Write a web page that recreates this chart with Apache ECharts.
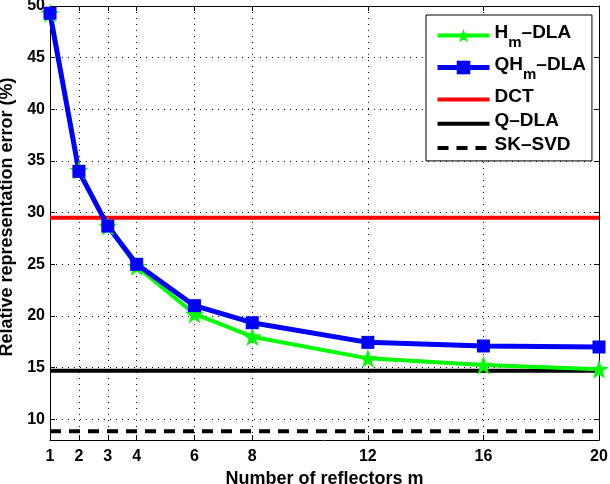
<!DOCTYPE html>
<html>
<head>
<meta charset="utf-8">
<script src="https://cdn.jsdelivr.net/npm/echarts@6/dist/echarts.min.js"></script>
<style>
  html, body { margin: 0; padding: 0; background: #fff; }
  #chart { width: 610px; height: 484px; }
</style>
</head>
<body>
<div id="chart"></div>
<script>
  // reflector counts on the x axis
  const mValues = [1, 2, 3, 4, 6, 8, 12, 16, 20];
  const xTicks = [1, 2, 3, 4, 6, 8, 12, 16, 20];
  const yTicks = [10, 15, 20, 25, 30, 35, 40, 45, 50];

  // error curves (%)
  const hmDla = [49.3, 34.1, 28.7, 24.8, 20.2, 18.0, 15.9, 15.25, 14.85];
  const qhmDla = [49.3, 34.0, 28.7, 25.0, 21.0, 19.35, 17.45, 17.1, 17.0];

  // flat references
  const dctLevel = 29.5;
  const qDlaLevel = 14.7;
  const skSvdLevel = 8.85;
  const flatX = [1, 20];

  const starPath = 'path://M0,-10 L2.35,-3.24 L9.51,-3.09 L3.8,1.24 L5.88,8.09 L0,4 L-5.88,8.09 L-3.8,1.24 L-9.51,-3.09 L-2.35,-3.24 Z';

  const pairs = (xs, ys) => xs.map((x, i) => [x, ys[i]]);
  const flat = (v) => flatX.map(x => [x, v]);

  const font = 'Liberation Sans';
  const gridLine = { show: true, lineStyle: { color: '#000', type: [1, 5], width: 1 } };
  const noMark = { color: 'rgba(0,0,0,0)', borderWidth: 0 };

  let chart = echarts.init(document.getElementById('chart'));
  chart.setOption({
    animation: false,
    backgroundColor: '#fff',
    textStyle: { fontFamily: font },
    grid: { left: 50, right: 11, top: 6, bottom: 44, outerBoundsMode: 'none', containLabel: false },
    legend: {
      orient: 'vertical',
      left: 426,
      top: 15,
      backgroundColor: '#fff',
      borderColor: '#000',
      borderWidth: 1,
      borderRadius: 0,
      padding: [8, 6, 6, 9],
      itemWidth: 52,
      itemHeight: 17,
      itemGap: 5,
      lineStyle: { width: 'inherit' },
      data: [
        { name: 'H_m-DLA' },
        { name: 'QH_m-DLA' },
        { name: 'DCT', itemStyle: noMark },
        { name: 'Q-DLA', itemStyle: noMark },
        { name: 'SK-SVD', itemStyle: noMark }
      ],
      formatter: function (name) {
        if (name === 'H_m-DLA') return '{a|H}{sub|m}{a|–DLA}';
        if (name === 'QH_m-DLA') return '{a|QH}{sub|m}{a|–DLA}';
        return '{a|' + name.replace('-', '–') + '}';
      },
      textStyle: {
        color: '#000',
        rich: {
          a: { fontSize: 19, fontWeight: 'bold', fontFamily: font, color: '#000', padding: [0, 0, 6, 0] },
          sub: { fontSize: 15, fontWeight: 'bold', fontFamily: font, color: '#000', padding: [14, 0, 0, 0] }
        }
      }
    },
    xAxis: [{
      type: 'value',
      min: 1,
      max: 20,
      name: 'Number of reflectors m',
      nameLocation: 'middle',
      nameGap: 26,
      nameTextStyle: { fontSize: 18, fontWeight: 'bold', fontFamily: font, color: '#000' },
      axisLine: { show: true, onZero: false, lineStyle: { color: '#000', width: 1 } },
      axisTick: { show: true, inside: true, length: 5, customValues: xTicks, lineStyle: { color: '#000' } },
      axisLabel: { customValues: xTicks, fontSize: 16, fontWeight: 'bold', color: '#000', margin: 9 },
      splitLine: gridLine
    }, {
      type: 'value',
      position: 'top',
      min: 1,
      max: 20,
      axisLine: { show: true, lineStyle: { color: '#000', width: 1 } },
      axisTick: { show: true, inside: true, length: 5, customValues: xTicks, lineStyle: { color: '#000' } },
      axisLabel: { show: false },
      splitLine: { show: false }
    }],
    yAxis: [{
      type: 'value',
      min: 8,
      max: 50,
      name: 'Relative representation error (%)',
      nameLocation: 'middle',
      nameGap: 33,
      nameTextStyle: { fontSize: 18, fontWeight: 'bold', fontFamily: font, color: '#000', padding: [0, 0, 0, 12] },
      axisLine: { show: true, onZero: false, lineStyle: { color: '#000', width: 1 } },
      axisTick: { show: true, inside: true, length: 5, customValues: yTicks, lineStyle: { color: '#000' } },
      axisLabel: { customValues: yTicks, fontSize: 16, fontWeight: 'bold', color: '#000', margin: 5 },
      splitLine: gridLine
    }, {
      type: 'value',
      position: 'right',
      min: 8,
      max: 50,
      axisLine: { show: true, lineStyle: { color: '#000', width: 1 } },
      axisTick: { show: true, inside: true, length: 5, customValues: yTicks, lineStyle: { color: '#000' } },
      axisLabel: { show: false },
      splitLine: { show: false }
    }],
    series: [
      {
        name: 'DCT',
        type: 'line',
        data: flat(dctLevel),
        symbol: 'none',
        lineStyle: { color: '#ff0000', width: 4 },
        itemStyle: { color: '#ff0000' }
      },
      {
        name: 'Q-DLA',
        type: 'line',
        data: flat(qDlaLevel),
        symbol: 'none',
        lineStyle: { color: '#000', width: 4 },
        itemStyle: { color: '#000' }
      },
      {
        name: 'SK-SVD',
        type: 'line',
        data: flat(skSvdLevel),
        symbol: 'none',
        lineStyle: { color: '#000', width: 4, type: [11, 8] },
        itemStyle: { color: '#000' }
      },
      {
        name: 'H_m-DLA',
        type: 'line',
        data: pairs(mValues, hmDla),
        symbol: starPath,
        symbolSize: 19,
        clip: false,
        lineStyle: { color: '#00ff00', width: 4 },
        itemStyle: { color: '#00ff00' }
      },
      {
        name: 'QH_m-DLA',
        type: 'line',
        data: pairs(mValues, qhmDla),
        symbol: 'rect',
        symbolSize: 13,
        clip: false,
        lineStyle: { color: '#0000ff', width: 5 },
        itemStyle: { color: '#0000ff' }
      }
    ]
  });
</script>
</body>
</html>
